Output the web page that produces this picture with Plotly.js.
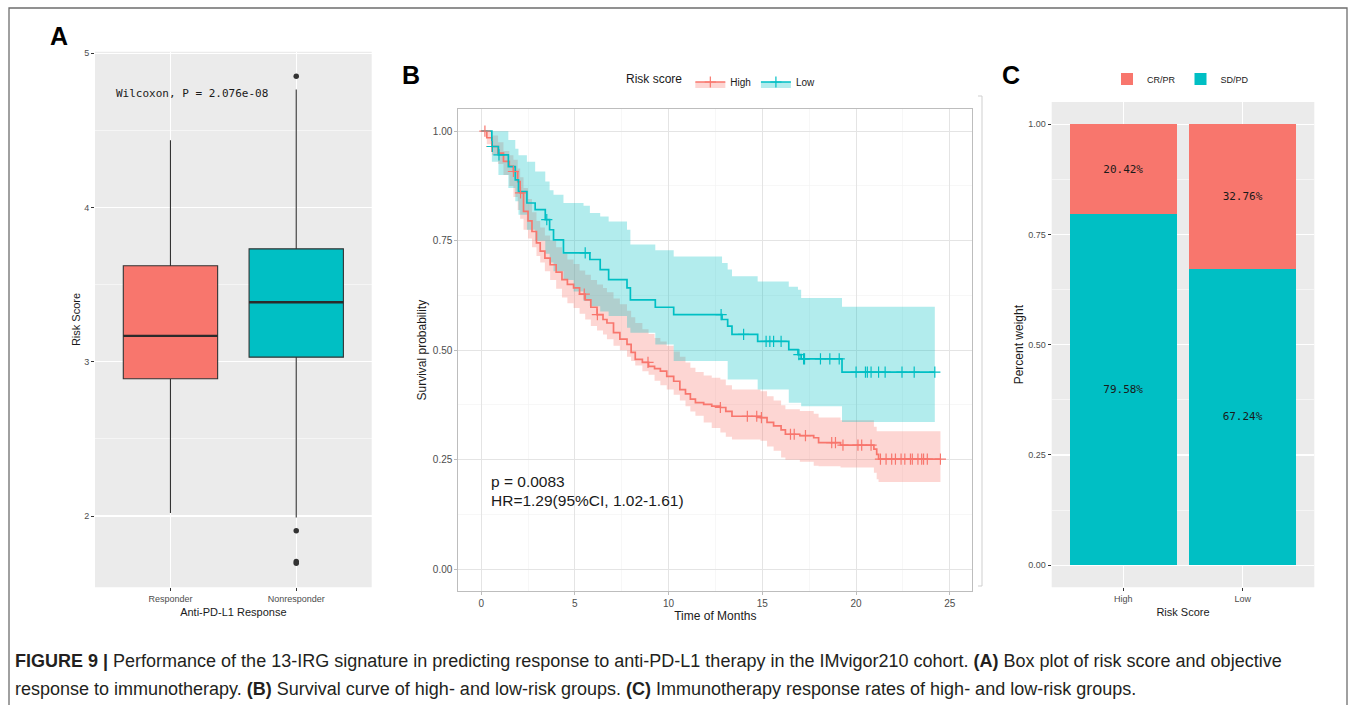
<!DOCTYPE html>
<html><head><meta charset="utf-8">
<script src="https://cdn.plot.ly/plotly-3.0.1.min.js"></script>
<style>html,body{margin:0;padding:0;background:#fff}#chart{width:1355px;height:705px}</style>
</head><body><div id="chart"></div>
<script>
// ---------- Panel A: box plot ----------
const boxCategories = ['Responder', 'Nonresponder'];
const boxQ1 = [2.89, 3.03];
const boxMedian = [3.168, 3.386];
const boxQ3 = [3.622, 3.732];
const boxLowerWhisker = [2.02, 1.99];
const boxUpperWhisker = [4.436, 4.765];
const outlierGroup = [2, 2, 2, 2];
const outlierValue = [4.851, 1.905, 1.706, 1.694];
const wilcoxonText = 'Wilcoxon, P = 2.076e-08';

// ---------- Panel B: Kaplan-Meier ----------
const highTime = [0,0.3,0.57,0.9,1.19,1.5,1.72,1.95,2.08,2.26,2.5,2.71,2.95,3.15,3.4,3.68,4.0,4.31,4.6,4.93,5.25,5.55,5.85,6.18,6.5,6.71,7.06,7.4,7.78,8.0,8.22,8.6,8.93,9.25,9.56,9.9,10.27,10.6,10.9,11.16,11.43,11.87,12.3,12.76,13.05,13.38,14.9,15.25,15.6,16.0,16.23,17.0,17.74,18.0,19.17,20.95,21.1,21.2,24.5];
const highSurv = [1.0,0.985,0.965,0.95,0.931,0.92,0.908,0.885,0.859,0.817,0.795,0.771,0.745,0.726,0.71,0.695,0.678,0.661,0.65,0.642,0.628,0.615,0.598,0.581,0.57,0.562,0.54,0.525,0.513,0.495,0.479,0.472,0.463,0.458,0.452,0.44,0.429,0.41,0.4,0.388,0.38,0.376,0.372,0.369,0.36,0.349,0.346,0.335,0.327,0.318,0.308,0.305,0.3,0.289,0.283,0.274,0.262,0.251,0.251];
const highUpper = [1.0,1.0,0.99,0.975,0.955,0.945,0.935,0.915,0.895,0.87,0.845,0.815,0.795,0.78,0.762,0.75,0.735,0.72,0.707,0.697,0.682,0.672,0.66,0.65,0.642,0.632,0.618,0.605,0.59,0.575,0.562,0.548,0.537,0.528,0.52,0.51,0.497,0.485,0.472,0.46,0.45,0.442,0.437,0.433,0.42,0.41,0.406,0.395,0.385,0.374,0.365,0.361,0.355,0.346,0.34,0.325,0.315,0.315,0.315];
const highLower = [1.0,0.97,0.945,0.925,0.9,0.875,0.85,0.82,0.8,0.775,0.755,0.735,0.715,0.7,0.68,0.66,0.64,0.62,0.607,0.596,0.583,0.57,0.555,0.545,0.536,0.525,0.51,0.5,0.485,0.475,0.465,0.452,0.444,0.43,0.42,0.41,0.398,0.385,0.372,0.36,0.35,0.335,0.322,0.312,0.302,0.296,0.293,0.28,0.27,0.255,0.25,0.245,0.236,0.235,0.232,0.22,0.205,0.199,0.199];
const highCensorTime = [0.2,0.57,1.72,2.1,5.5,6.2,8.9,12.76,14.2,14.7,14.95,16.5,16.7,17.3,18.7,18.9,19.3,20.1,20.3,20.8,21.3,21.6,21.9,22.1,22.4,22.6,22.9,23.0,23.3,23.5,23.6,23.8,24.5];

const lowTime = [0,0.57,0.92,1.45,1.82,1.99,2.44,2.88,3.42,3.65,3.86,4.39,4.93,5.46,5.8,6.35,6.8,7.78,7.96,9.29,10.27,12.85,13.15,13.38,14.75,16.41,16.9,17.07,19.25,24.2];
const lowSurv = [1,0.965,0.946,0.919,0.889,0.862,0.836,0.821,0.798,0.775,0.752,0.722,0.722,0.722,0.707,0.684,0.661,0.642,0.615,0.598,0.581,0.570,0.555,0.536,0.52,0.501,0.49,0.48,0.45,0.45];
const lowUpper = [1,1,1,0.98,0.96,0.945,0.93,0.908,0.885,0.865,0.855,0.836,0.836,0.83,0.813,0.805,0.794,0.775,0.741,0.728,0.714,0.699,0.684,0.669,0.657,0.645,0.638,0.619,0.599,0.599];
const lowLower = [1,0.93,0.9,0.87,0.84,0.809,0.775,0.75,0.72,0.7,0.68,0.66,0.634,0.612,0.6,0.588,0.578,0.551,0.54,0.513,0.475,0.475,0.433,0.433,0.41,0.38,0.38,0.372,0.336,0.336];
const lowCensorTime = [0.6,0.95,3.5,5.55,12.8,14.0,15.2,15.4,15.6,16.0,16.95,17.2,17.25,18.1,18.6,19.1,20.0,20.5,20.6,20.8,21.2,21.55,22.45,23.1,24.2];

const pValueText = 'p = 0.0083';
const hrText = 'HR=1.29(95%CI, 1.02-1.61)';

// ---------- Panel C: stacked bars ----------
const riskGroups = ['High', 'Low'];
const crprShare = [0.2042, 0.3276];
const sdpdShare = [0.7958, 0.6724];

// ---------- Caption ----------
const captionLine1 = '<b>FIGURE 9 |</b> Performance of the 13-IRG signature in predicting response to anti-PD-L1 therapy in the IMvigor210 cohort. <b>(A)</b> Box plot of risk score and objective';
const captionLine2 = 'response to immunotherapy. <b>(B)</b> Survival curve of high- and low-risk groups. <b>(C)</b> Immunotherapy response rates of high- and low-risk groups.';

// ---------- helpers ----------
const W = 1355, H = 705;
const fx = p => p / W;
const fy = p => 1 - p / H;
const RED = '#F8766D', TEAL = '#00BFC4';
const RED_BAND = 'rgba(248,118,109,0.3)', TEAL_BAND = 'rgba(0,191,196,0.3)';
const SANS = 'Liberation Sans, Arial, sans-serif';
const MONO = 'DejaVu Sans Mono, monospace';
function stepAt(times, vals, t) {
  let v = vals[0];
  for (let i = 0; i < times.length; i++) { if (times[i] <= t) v = vals[i]; }
  return v;
}
const boxPos = boxCategories.map((c, i) => i + 1);
const barPos = riskGroups.map((c, i) => i + 1);
const BOXW = 0.75;

const traces = [];
// Panel A boxes
boxCategories.forEach((c, i) => {
  traces.push({
    type: 'box', x: [boxPos[i]], q1: [boxQ1[i]], median: [boxMedian[i]], q3: [boxQ3[i]],
    lowerfence: [boxLowerWhisker[i]], upperfence: [boxUpperWhisker[i]],
    width: BOXW, whiskerwidth: 0, boxpoints: false,
    fillcolor: i === 0 ? RED : TEAL, line: {color: '#333333', width: 1.1},
    xaxis: 'x', yaxis: 'y', showlegend: false, hoverinfo: 'skip'
  });
  traces.push({
    type: 'scatter', mode: 'lines', x: [boxPos[i] - BOXW / 2, boxPos[i] + BOXW / 2], y: [boxMedian[i], boxMedian[i]],
    line: {color: '#2b2b2b', width: 2.4}, xaxis: 'x', yaxis: 'y', showlegend: false, hoverinfo: 'skip'
  });
});
traces.push({
  type: 'scatter', mode: 'markers', x: outlierGroup, y: outlierValue,
  marker: {color: '#333333', size: 5.5}, xaxis: 'x', yaxis: 'y', showlegend: false, hoverinfo: 'skip'
});

// Panel B bands
function band(times, lower, upper, color) {
  traces.push({type: 'scatter', mode: 'lines', x: times, y: lower, line: {width: 0, shape: 'hv'},
    xaxis: 'x2', yaxis: 'y2', showlegend: false, hoverinfo: 'skip'});
  traces.push({type: 'scatter', mode: 'lines', x: times, y: upper, line: {width: 0, shape: 'hv'},
    fill: 'tonexty', fillcolor: color, xaxis: 'x2', yaxis: 'y2', showlegend: false, hoverinfo: 'skip'});
}
band(highTime, highLower, highUpper, RED_BAND);
band(lowTime, lowLower, lowUpper, TEAL_BAND);
// curves
traces.push({type: 'scatter', mode: 'lines', x: highTime, y: highSurv, line: {color: RED, width: 1.7, shape: 'hv'},
  xaxis: 'x2', yaxis: 'y2', showlegend: false, hoverinfo: 'skip'});
traces.push({type: 'scatter', mode: 'lines', x: lowTime, y: lowSurv, line: {color: TEAL, width: 1.7, shape: 'hv'},
  xaxis: 'x2', yaxis: 'y2', showlegend: false, hoverinfo: 'skip'});
// censor marks
traces.push({type: 'scatter', mode: 'markers', x: highCensorTime, y: highCensorTime.map(t => stepAt(highTime, highSurv, t)),
  marker: {symbol: 'cross-thin', size: 8, line: {color: RED, width: 1.2}}, xaxis: 'x2', yaxis: 'y2', showlegend: false, hoverinfo: 'skip'});
traces.push({type: 'scatter', mode: 'markers', x: lowCensorTime, y: lowCensorTime.map(t => stepAt(lowTime, lowSurv, t)),
  marker: {symbol: 'cross-thin', size: 8, line: {color: TEAL, width: 1.2}}, xaxis: 'x2', yaxis: 'y2', showlegend: false, hoverinfo: 'skip'});
// legend entries for B
[['High', RED, RED_BAND], ['Low', TEAL, TEAL_BAND]].forEach(([name, c, f]) => {
  traces.push({type: 'scatter', mode: 'lines+markers', name: name, x: [null], y: [null],
    line: {color: c, width: 1.7}, marker: {symbol: 'cross-thin', size: 8, line: {color: c, width: 1.2}},
    fill: 'toself', fillcolor: f, legend: 'legend2', xaxis: 'x2', yaxis: 'y2', hoverinfo: 'skip'});
});

// Panel C bars
const pct = v => (v * 100).toFixed(2) + '%';
traces.push({type: 'bar', name: 'SD/PD', x: barPos, y: sdpdShare, width: 0.9, marker: {color: TEAL},
  text: sdpdShare.map(pct), textposition: 'inside', insidetextanchor: 'middle', textangle: 0,
  textfont: {family: MONO, size: 11, color: '#1a1a1a'}, legendrank: 2, xaxis: 'x3', yaxis: 'y3', hoverinfo: 'skip'});
traces.push({type: 'bar', name: 'CR/PR', x: barPos, y: crprShare, width: 0.9, marker: {color: RED},
  text: crprShare.map(pct), textposition: 'inside', insidetextanchor: 'middle', textangle: 0,
  textfont: {family: MONO, size: 11, color: '#1a1a1a'}, legendrank: 1, xaxis: 'x3', yaxis: 'y3', hoverinfo: 'skip'});

const tickFontSmall = {family: SANS, size: 9, color: '#4D4D4D'};
const ggAxisCommon = {
  showgrid: true, gridcolor: '#FFFFFF', gridwidth: 1.1, zeroline: false, showline: false,
  ticks: 'outside', ticklen: 3, tickcolor: '#333333', tickwidth: 1, tickfont: tickFontSmall, automargin: false
};
const lightAxisCommon = {
  showgrid: true, gridcolor: '#E4E4E4', gridwidth: 1, zeroline: false, showline: true, mirror: true,
  linecolor: '#BDBDBD', linewidth: 1, ticks: 'outside', ticklen: 3, tickcolor: '#BDBDBD',
  tickfont: {family: SANS, size: 10, color: '#4D4D4D'}, automargin: false
};

const layout = {
  width: W, height: H, margin: {l: 0, r: 0, t: 0, b: 0},
  paper_bgcolor: '#FFFFFF', plot_bgcolor: 'rgba(0,0,0,0)',
  font: {family: SANS, color: '#1a1a1a'},
  barmode: 'stack', boxmode: 'overlay',
  xaxis: Object.assign({}, ggAxisCommon, {
    domain: [fx(95), fx(371.7)], range: [0.4, 2.6], tickvals: boxPos, ticktext: boxCategories, anchor: 'y',
    title: {text: 'Anti-PD-L1 Response', font: {family: SANS, size: 11, color: '#1a1a1a'}, standoff: 5}
  }),
  yaxis: Object.assign({}, ggAxisCommon, {
    domain: [fy(587.3), fy(51.7)], range: [1.538, 5.01], dtick: 1, tick0: 0, anchor: 'x',
    minor: {dtick: 0.5, tick0: 0, showgrid: true, gridcolor: '#FFFFFF', gridwidth: 0.5, ticks: ''},
    title: {text: 'Risk Score', font: {family: SANS, size: 11, color: '#1a1a1a'}, standoff: 1}
  }),
  xaxis2: Object.assign({}, lightAxisCommon, {
    domain: [fx(458.3), fx(972.3)], range: [-1.22, 26.2], dtick: 5, tick0: 0, anchor: 'y2',
    minor: {dtick: 2.5, tick0: 0, showgrid: true, gridcolor: '#F1F1F1', gridwidth: 0.6, ticks: ''},
    title: {text: 'Time of Months', font: {family: SANS, size: 12, color: '#1a1a1a'}, standoff: 2}
  }),
  yaxis2: Object.assign({}, lightAxisCommon, {
    domain: [fy(591), fy(109.3)], range: [-0.05, 1.05], dtick: 0.25, tick0: 0, tickformat: '.2f', anchor: 'x2',
    minor: {dtick: 0.125, tick0: 0, showgrid: true, gridcolor: '#F1F1F1', gridwidth: 0.6, ticks: ''},
    title: {text: 'Survival probability', font: {family: SANS, size: 12, color: '#1a1a1a'}, standoff: 3}
  }),
  xaxis3: Object.assign({}, ggAxisCommon, {
    domain: [fx(1051.7), fx(1314.3)], range: [0.4, 2.6], tickvals: barPos, ticktext: riskGroups, anchor: 'y3',
    title: {text: 'Risk Score', font: {family: SANS, size: 11, color: '#1a1a1a'}, standoff: 5}
  }),
  yaxis3: Object.assign({}, ggAxisCommon, {
    domain: [fy(587.3), fy(102)], range: [-0.05, 1.05], dtick: 0.25, tick0: 0, tickformat: '.2f', anchor: 'x3',
    minor: {dtick: 0.125, tick0: 0, showgrid: true, gridcolor: '#FFFFFF', gridwidth: 0.5, ticks: ''},
    title: {text: 'Percent weight', font: {family: SANS, size: 12, color: '#1a1a1a'}, standoff: 2}
  }),
  legend: {
    orientation: 'h', x: fx(1107), y: fy(79), xanchor: 'left', yanchor: 'middle',
    font: {family: SANS, size: 9, color: '#1a1a1a'}, bgcolor: 'rgba(0,0,0,0)', itemwidth: 30, traceorder: 'normal'
  },
  legend2: {
    orientation: 'h', x: fx(624), y: fy(82), xanchor: 'left', yanchor: 'middle',
    font: {family: SANS, size: 10, color: '#1a1a1a'}, bgcolor: 'rgba(0,0,0,0)', itemwidth: 30,
    title: {text: 'Risk score', side: 'left', font: {family: SANS, size: 12, color: '#1a1a1a'}}
  },
  shapes: [
    {type: 'rect', xref: 'x domain', yref: 'y domain', x0: 0, x1: 1, y0: 0, y1: 1, fillcolor: '#EBEBEB', line: {width: 0}, layer: 'below'},
    {type: 'rect', xref: 'x3 domain', yref: 'y3 domain', x0: 0, x1: 1, y0: 0, y1: 1, fillcolor: '#EBEBEB', line: {width: 0}, layer: 'below'},
    {type: 'path', xref: 'paper', yref: 'paper',
      path: `M ${fx(9)} 0 L ${fx(9)} ${fy(8)} L ${fx(1347)} ${fy(8)} L ${fx(1347)} 0`,
      line: {color: '#6E6E6E', width: 1.3}},
    {type: 'path', xref: 'paper', yref: 'paper',
      path: `M ${fx(978)} ${fy(96)} L ${fx(982)} ${fy(96)} L ${fx(982)} ${fy(586)} L ${fx(978)} ${fy(586)}`,
      line: {color: '#CFCFCF', width: 1}}
  ],
  annotations: [
    {xref: 'paper', yref: 'paper', x: fx(59), y: fy(36), text: '<b>A</b>', showarrow: false, xanchor: 'center', yanchor: 'middle',
      font: {family: SANS, size: 25, color: '#000'}},
    {xref: 'paper', yref: 'paper', x: fx(411), y: fy(75), text: '<b>B</b>', showarrow: false, xanchor: 'center', yanchor: 'middle',
      font: {family: SANS, size: 25, color: '#000'}},
    {xref: 'paper', yref: 'paper', x: fx(1011), y: fy(75), text: '<b>C</b>', showarrow: false, xanchor: 'center', yanchor: 'middle',
      font: {family: SANS, size: 25, color: '#000'}},
    {xref: 'x', yref: 'y', x: 1.172, y: 4.74, text: wilcoxonText, showarrow: false, xanchor: 'center', yanchor: 'middle',
      font: {family: MONO, size: 11, color: '#1a1a1a'}},
    {xref: 'x2', yref: 'y2', x: 0.4, y: 0.2, text: pValueText, showarrow: false, xanchor: 'left', yanchor: 'middle',
      font: {family: SANS, size: 15.5, color: '#1a1a1a'}},
    {xref: 'x2', yref: 'y2', x: 0.4, y: 0.157, text: hrText, showarrow: false, xanchor: 'left', yanchor: 'middle',
      font: {family: SANS, size: 15.5, color: '#1a1a1a'}},
    {xref: 'paper', yref: 'paper', x: fx(13), y: fy(661), text: captionLine1, showarrow: false, xanchor: 'left', yanchor: 'middle',
      font: {family: SANS, size: 18, color: '#231F20'}},
    {xref: 'paper', yref: 'paper', x: fx(13), y: fy(689), text: captionLine2, showarrow: false, xanchor: 'left', yanchor: 'middle',
      font: {family: SANS, size: 18, color: '#231F20'}}
  ]
};

Plotly.newPlot('chart', traces, layout, {staticPlot: true, displayModeBar: false});
</script></body></html>
